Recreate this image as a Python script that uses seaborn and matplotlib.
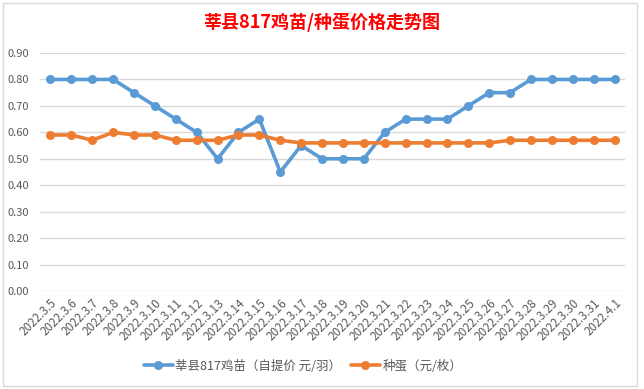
import matplotlib
matplotlib.use("Agg")
import matplotlib.pyplot as plt
import seaborn as sns
import pandas as pd
from matplotlib.patches import Rectangle

dates = ["2022.3.5", "2022.3.6", "2022.3.7", "2022.3.8", "2022.3.9", "2022.3.10",
         "2022.3.11", "2022.3.12", "2022.3.13", "2022.3.14", "2022.3.15", "2022.3.16",
         "2022.3.17", "2022.3.18", "2022.3.19", "2022.3.20", "2022.3.21", "2022.3.22",
         "2022.3.23", "2022.3.24", "2022.3.25", "2022.3.26", "2022.3.27", "2022.3.28",
         "2022.3.29", "2022.3.30", "2022.3.31", "2022.4.1"]
chick = [0.80, 0.80, 0.80, 0.80, 0.75, 0.70, 0.65, 0.60, 0.50, 0.60, 0.65, 0.45,
         0.55, 0.50, 0.50, 0.50, 0.60, 0.65, 0.65, 0.65, 0.70, 0.75, 0.75, 0.80,
         0.80, 0.80, 0.80, 0.80]
egg = [0.59, 0.59, 0.57, 0.60, 0.59, 0.59, 0.57, 0.57, 0.57, 0.59, 0.59, 0.57,
       0.56, 0.56, 0.56, 0.56, 0.56, 0.56, 0.56, 0.56, 0.56, 0.56, 0.57, 0.57,
       0.57, 0.57, 0.57, 0.57]
series_names = ["莘县817鸡苗（自提价 元/羽）", "种蛋（元/枚）"]
yticks = [0.00, 0.10, 0.20, 0.30, 0.40, 0.50, 0.60, 0.70, 0.80, 0.90]
title = "莘县817鸡苗/种蛋价格走势图"

sns.set_theme(style="white")
plt.rcParams['font.family'] = ['Noto Sans CJK SC', 'DejaVu Sans']

n = len(dates)
df = pd.DataFrame({
    "idx": list(range(n)) * 2,
    "value": chick + egg,
    "series": [series_names[0]] * n + [series_names[1]] * n,
})

fig = plt.figure(figsize=(6.44, 3.89), dpi=100)
ax = fig.add_axes([40/644, 1 - 291/389, (625-40)/644, (291-53)/389])

palette = {series_names[0]: "#5B9BD5", series_names[1]: "#ED7D31"}
sns.lineplot(data=df, x="idx", y="value", hue="series", palette=palette,
             marker="o", markersize=6.5, markeredgewidth=0, linewidth=2.6,
             ax=ax, legend=True)

ax.set_xlim(-0.5, n - 0.5)
ax.set_ylim(0, 0.9)
ax.set_yticks(yticks)
ax.set_yticklabels([f"{v:.2f}" for v in yticks], color="#595959", fontsize=8)
ax.set_xticks(range(n))
ax.set_xticklabels(dates, rotation=45, ha="right", rotation_mode="anchor",
                   color="#595959", fontsize=8.5)
ax.tick_params(axis="both", length=0, pad=4)
ax.tick_params(axis="y", pad=8)
ax.set_xlabel("")
ax.set_ylabel("")
ax.grid(axis="y", color="#D9D9D9", linewidth=1)
ax.set_axisbelow(True)
for s in ax.spines.values():
    s.set_visible(False)

handles, labels = ax.get_legend_handles_labels()
ax.legend(handles, labels, loc="center", bbox_to_anchor=(303/644, 1 - 366/389),
          bbox_transform=fig.transFigure, ncol=2, frameon=False,
          fontsize=9, labelcolor="#595959", handlelength=2.3, columnspacing=0.8,
          handletextpad=0.2)

fig.text(322/644, 1 - 22/389, title, color="red", fontsize=13, fontweight="bold",
         ha="center", va="center")

fig.patches.append(Rectangle((3/644, 3/389), 634/644, 383/389, transform=fig.transFigure,
                             fill=False, edgecolor="#D9D9D9", linewidth=1))

fig.savefig("out.png", dpi=100)
